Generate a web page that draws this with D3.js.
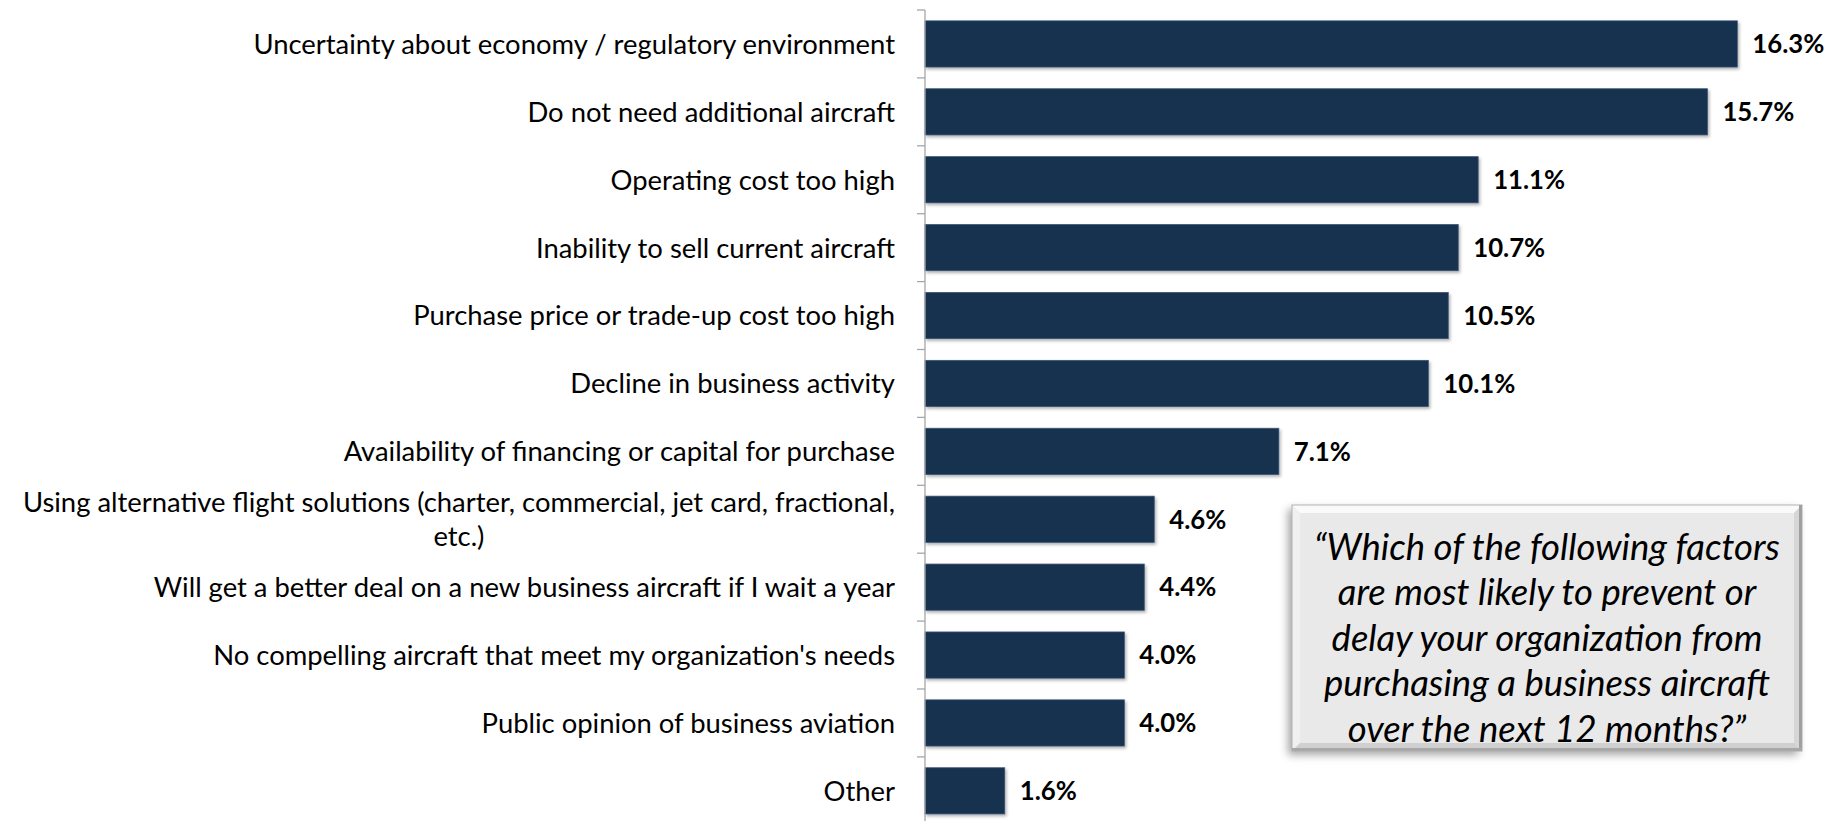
<!DOCTYPE html>
<html>
<head>
<meta charset="utf-8">
<script src="https://cdn.jsdelivr.net/npm/d3@7"></script>
<style>
  html, body { margin: 0; padding: 0; background: #fff; }
  svg { display: block; }
</style>
</head>
<body>
<svg id="chart" width="1845" height="821"></svg>
<script>
// ---- data ----
const categories = [
  "Uncertainty about economy / regulatory environment",
  "Do not need additional aircraft",
  "Operating cost too high",
  "Inability to sell current aircraft",
  "Purchase price or trade-up cost too high",
  "Decline in business activity",
  "Availability of financing or capital for purchase",
  "Using alternative flight solutions (charter, commercial, jet card, fractional, etc.)",
  "Will get a better deal on a new business aircraft if I wait a year",
  "No compelling aircraft that meet my organization's needs",
  "Public opinion of business aviation",
  "Other"
];
const values = [16.3, 15.7, 11.1, 10.7, 10.5, 10.1, 7.1, 4.6, 4.4, 4.0, 4.0, 1.6];
const xDomain = [0, 18];
const calloutLines = [
  "\u201CWhich of the following factors",
  "are most likely to prevent or",
  "delay your organization from",
  "purchasing a business aircraft",
  "over the next 12 months?\u201D"
];

// ---- layout ----
const svg = d3.select("#chart");
const axisX = 925;
const plotRight = 1822;
const plotTop = 10, step = 67.9;
const fontFam = "Lato, 'Open Sans', sans-serif";
const barColor = "#16304f";

const x = d3.scaleLinear().domain(xDomain).range([axisX, plotRight]);
const y = d3.scaleBand().domain(categories)
  .range([plotTop, plotTop + step * categories.length])
  .paddingInner(0.32).paddingOuter(0.16);

function fitSize(sample, target, weight, style) {
  const t = svg.append("text").attr("font-family", fontFam).attr("font-size", 100)
    .attr("font-weight", weight).attr("font-style", style).text(sample);
  const w = t.node().getComputedTextLength();
  t.remove();
  return 100 * target / w;
}
const catSize = fitSize(categories[0], 642, "normal", "normal");
const valSize = fitSize("16.3%", 72, "bold", "normal");
const callSize = fitSize(calloutLines[0], 466, "normal", "italic");

// defs
const defs = svg.append("defs");
const sh = defs.append("filter").attr("id", "barShadow").attr("x", "-5%").attr("y", "-20%").attr("width", "110%").attr("height", "150%");
sh.append("feDropShadow").attr("dx", 1.5).attr("dy", 2).attr("stdDeviation", 1.5).attr("flood-color", "#000").attr("flood-opacity", 0.3);
const bs = defs.append("filter").attr("id", "boxShadow").attr("x", "-10%").attr("y", "-10%").attr("width", "120%").attr("height", "125%");
bs.append("feDropShadow").attr("dx", -4).attr("dy", 4).attr("stdDeviation", 4).attr("flood-color", "#000").attr("flood-opacity", 0.35);

// bars
svg.append("g").selectAll("rect").data(categories).join("rect")
  .attr("x", x(0))
  .attr("y", d => y(d))
  .attr("width", (d, i) => x(values[i]) - x(0))
  .attr("height", y.bandwidth())
  .attr("fill", barColor)
  .attr("stroke", "#3b5374").attr("stroke-width", 0.8)
  .attr("filter", "url(#barShadow)");

// value labels
svg.append("g").selectAll("text").data(categories).join("text")
  .attr("x", (d, i) => x(values[i]) + 15)
  .attr("y", d => y(d) + y.bandwidth() / 2)
  .attr("dy", "0.36em")
  .attr("font-family", fontFam)
  .attr("font-weight", "bold")
  .attr("font-size", valSize)
  .attr("fill", "#000")
  .text((d, i) => d3.format(".1f")(values[i]) + "%");

// axis: vertical line with ticks at band boundaries
const axisG = svg.append("g").attr("stroke", "#a6a6a6").attr("stroke-width", 1.3);
axisG.append("line").attr("x1", axisX).attr("x2", axisX).attr("y1", plotTop).attr("y2", 821);
const boundaries = d3.range(categories.length + 1).map(i => plotTop + i * y.step());
axisG.selectAll("line.tick").data(boundaries).join("line").attr("class", "tick")
  .attr("x1", axisX - 8).attr("x2", axisX).attr("y1", d => d).attr("y2", d => d);

// category labels with wrapping
const labelRight = 895;
const maxLabelW = 885;
const labG = svg.append("g").attr("font-family", fontFam).attr("font-size", catSize).attr("fill", "#000");
categories.forEach(cat => {
  const t = labG.append("text");
  const words = cat.split(" ");
  let lines = [], line = [];
  const probe = labG.append("text");
  words.forEach(w => {
    const test = line.concat([w]).join(" ");
    probe.text(test);
    if (probe.node().getComputedTextLength() > maxLabelW && line.length) {
      lines.push(line.join(" "));
      line = [w];
    } else line.push(w);
  });
  lines.push(line.join(" "));
  const widths = lines.map(l => { probe.text(l); return probe.node().getComputedTextLength(); });
  probe.remove();
  const cy = y(cat) + y.bandwidth() / 2;
  const lh = catSize * 1.22;
  if (lines.length === 1) {
    t.attr("x", labelRight).attr("y", cy).attr("dy", "0.36em").attr("text-anchor", "end").text(lines[0]);
  } else {
    const cx = labelRight - d3.max(widths) / 2;
    t.attr("text-anchor", "middle");
    lines.forEach((l, k) => {
      t.append("tspan").attr("x", cx)
        .attr("y", cy + (k - (lines.length - 1) / 2) * lh)
        .attr("dy", "0.36em").text(l);
    });
  }
});

// callout box
const bx = 1292, by = 505, bw = 510, bh = 246, bev = 8;
const cg = svg.append("g");
cg.append("rect").attr("x", bx).attr("y", by).attr("width", bw).attr("height", bh)
  .attr("fill", "#e9e9e9").attr("filter", "url(#boxShadow)");
cg.append("polygon").attr("points", [[bx,by],[bx+bw,by],[bx+bw-bev,by+bev],[bx+bev,by+bev]].join(" ")).attr("fill", "#fafafa");
cg.append("polygon").attr("points", [[bx,by],[bx+bev,by+bev],[bx+bev,by+bh-bev],[bx,by+bh]].join(" ")).attr("fill", "#f0f0f0");
cg.append("polygon").attr("points", [[bx+bw,by],[bx+bw,by+bh],[bx+bw-bev,by+bh-bev],[bx+bw-bev,by+bev]].join(" ")).attr("fill", "#d6d6d6");
cg.append("polygon").attr("points", [[bx,by+bh],[bx+bw,by+bh],[bx+bw-bev,by+bh-bev],[bx+bev,by+bh-bev]].join(" ")).attr("fill", "#d0d0d0");
cg.append("rect").attr("x", bx).attr("y", by).attr("width", bw).attr("height", bh)
  .attr("fill", "none").attr("stroke", "#b3b3b3").attr("stroke-width", 1);
cg.append("line").attr("x1", bx + bw - 1.5).attr("x2", bx + bw - 1.5).attr("y1", by).attr("y2", by + bh)
  .attr("stroke", "#a0a0a0").attr("stroke-width", 3);
cg.append("line").attr("x1", bx).attr("x2", bx + bw).attr("y1", by + bh - 1.5).attr("y2", by + bh - 1.5)
  .attr("stroke", "#a8a8a8").attr("stroke-width", 3);

cg.append("g").selectAll("text").data(calloutLines).join("text")
  .attr("x", bx + bw / 2)
  .attr("y", (d, i) => 559.5 + i * 45.6)
  .attr("text-anchor", "middle")
  .attr("font-family", fontFam)
  .attr("font-style", "italic")
  .attr("font-size", callSize)
  .attr("fill", "#000")
  .text(d => d);
</script>
</body>
</html>
